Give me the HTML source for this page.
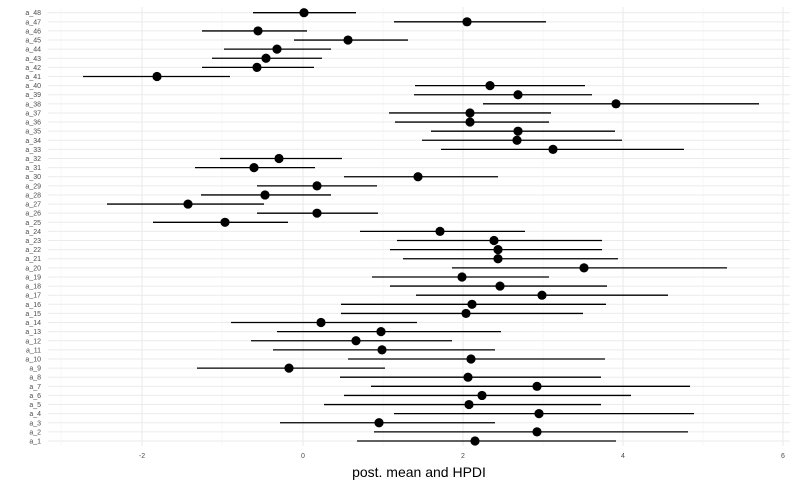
<!DOCTYPE html>
<html><head><meta charset="utf-8"><style>
html,body{margin:0;padding:0;background:#fff;}
svg{display:block;font-family:"Liberation Sans",sans-serif;}
</style></head><body>
<svg id="s" width="800" height="488" viewBox="0 0 800 488" xmlns="http://www.w3.org/2000/svg"></svg>
<script>
(function(){
const d=[[304,253,356],[467,394,546],[258,202,307],[348,294,408],[277,224,331],[266,212,322],[257,202,314],[157,83,230],[490,415,585],[518,414,592],[616,483,759],[470,389,551],[470,395,549],[518,431,615],[517,422,622],[553,441,684],[279,220,342],[254,195,315],[418,344,498],[317,257,377],[265,201,331],[188,107,264],[317,257,378],[225,153,288],[440,360,525],[494,397,602],[498,390,602],[498,403,618],[584,452,727],[462,372,549],[500,390,607],[542,416,668],[472,341,606],[466,341,583],[321,231,417],[381,277,501],[356,251,452],[382,273,495],[471,348,605],[289,197,385],[468,340,601],[537,371,690],[482,344,631],[469,324,601],[539,394,694],[379,280,495],[537,374,688],[475,357,616]];
let h='';
const y0=12.7,step=(441-12.7)/47;
for(let i=0;i<48;i++){const y=y0+i*step;h+=`<line x1="48" x2="790" y1="${y}" y2="${y}" stroke="#ebebeb" stroke-width="1"/>`;}
[61,222,383,543,703].forEach(x=>h+=`<line x1="${x}" x2="${x}" y1="7" y2="446" stroke="#f2f2f2" stroke-width="0.6"/>`);
[[142,'-2'],[303,'0'],[463,'2'],[623,'4'],[783,'6']].forEach(([x,t])=>{h+=`<line x1="${x}" x2="${x}" y1="7" y2="446" stroke="#ebebeb" stroke-width="1.1"/><text x="${x}" y="458" font-size="7" fill="#4d4d4d" text-anchor="middle">${t}</text>`;});
for(let i=0;i<48;i++){const y=y0+i*step;const [p,lo,hi]=d[i];
h+=`<text x="41" y="${y+2.5}" font-size="7" fill="#4d4d4d" text-anchor="end">a_${48-i}</text>`;
h+=`<line x1="${lo}" x2="${hi}" y1="${y}" y2="${y}" stroke="#000" stroke-width="1.3"/><circle cx="${p}" cy="${y}" r="4.6" fill="#000"/>`;}
h+=`<text x="419" y="477" font-size="14" fill="#000" text-anchor="middle">post. mean and HPDI</text>`;
document.getElementById('s').innerHTML=h;
})();
</script>
</body></html>
